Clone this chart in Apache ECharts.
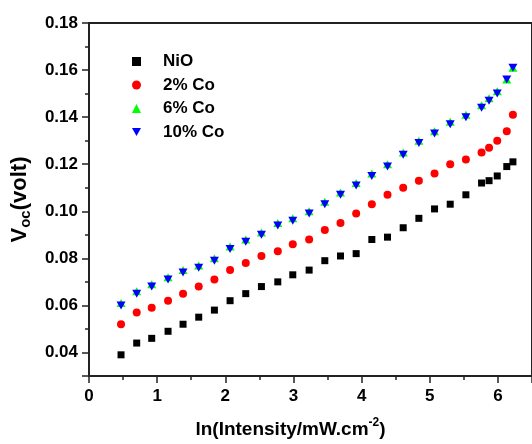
<!DOCTYPE html>
<html>
<head>
<meta charset="utf-8">
<script src="https://cdn.jsdelivr.net/npm/echarts@6/dist/echarts.min.js"></script>
<style>
html,body{margin:0;padding:0;background:#fff;}
#chart{width:532px;height:444px;}
</style>
</head>
<body>
<div id="chart"></div>
<script>
const lnIntensity = [0.47,0.70,0.92,1.16,1.38,1.61,1.84,2.07,2.30,2.53,2.77,2.99,3.23,3.46,3.69,3.92,4.15,4.38,4.61,4.84,5.07,5.30,5.53,5.76,5.87,5.99,6.13,6.22];
const vocNiO  = [0.039,0.044,0.046,0.049,0.052,0.055,0.058,0.062,0.065,0.068,0.070,0.073,0.075,0.079,0.081,0.082,0.088,0.089,0.093,0.097,0.101,0.103,0.107,0.112,0.113,0.115,0.119,0.121];
const voc2Co  = [0.052,0.057,0.059,0.062,0.065,0.068,0.071,0.075,0.078,0.081,0.083,0.086,0.088,0.092,0.095,0.099,0.103,0.107,0.110,0.113,0.116,0.120,0.122,0.125,0.127,0.130,0.134,0.141];
const voc6Co  = [0.061,0.066,0.069,0.072,0.075,0.077,0.080,0.085,0.088,0.091,0.095,0.097,0.100,0.104,0.108,0.112,0.116,0.120,0.125,0.130,0.134,0.138,0.141,0.145,0.148,0.151,0.156,0.161];
const voc10Co = [0.060,0.065,0.068,0.071,0.074,0.076,0.079,0.084,0.087,0.090,0.094,0.096,0.099,0.103,0.107,0.111,0.115,0.119,0.124,0.129,0.133,0.137,0.140,0.144,0.147,0.150,0.156,0.161];
const seriesNames = ['NiO','2% Co','6% Co','10% Co'];

function pairs(ys){ return lnIntensity.map((x,i)=>[x, ys[i]]); }

const FONT = 'Liberation Sans, Arial, sans-serif';
const chart = echarts.init(document.getElementById('chart'), null, {renderer:'canvas'});
const axisCol = '#222';
chart.setOption({
  animation:false,
  backgroundColor:'#fff',
  grid:{left:89, top:23, width:444, height:361, show:true, borderColor:axisCol, borderWidth:2, backgroundColor:'transparent'},
  legend:{
    orient:'vertical', left:127, top:48,
    itemWidth:9, itemHeight:9, itemGap:6.5,
    textStyle:{fontFamily:FONT, fontSize:17, fontWeight:'bold', color:'#000', padding:[0,0,0,17]},
    data:[
      {name:seriesNames[0], icon:'rect'},
      {name:seriesNames[1], icon:'circle'},
      {name:seriesNames[2], icon:'triangle'},
      {name:seriesNames[3], icon:'path://M0,0L10,0L5,9Z'}
    ]
  },
  xAxis:{
    type:'value', min:0, max:6.5, interval:1,
    name:'{t|ln(Intensity/mW.cm}{s|-2}{t|)}',
    nameLocation:'middle', nameGap:41,
    nameTextStyle:{padding:[0,40,0,0], rich:{
      t:{fontFamily:FONT, fontSize:19, fontWeight:'bold', color:'#000', lineHeight:22, verticalAlign:'bottom'},
      s:{fontFamily:FONT, fontSize:12, fontWeight:'bold', color:'#000', lineHeight:22, verticalAlign:'top', padding:[0,0,8,0]}
    }},
    axisLine:{lineStyle:{color:axisCol, width:2}},
    axisTick:{length:7, lineStyle:{color:axisCol, width:1.5}},
    minorTick:{show:true, splitNumber:2, length:4, lineStyle:{color:axisCol, width:1.5}},
    splitLine:{show:false},
    axisLabel:{fontFamily:FONT, fontSize:17, fontWeight:'bold', color:'#000', margin:12, showMaxLabel:false}
  },
  yAxis:{
    type:'value', min:0.03, max:0.18, splitNumber:7,
    name:'{v|V}{s|oc}{v|(volt)}',
    nameLocation:'middle', nameGap:56,
    nameTextStyle:{rich:{
      v:{fontFamily:FONT, fontSize:22, fontWeight:'bold', color:'#000', lineHeight:26},
      s:{fontFamily:FONT, fontSize:15, fontWeight:'bold', color:'#000', lineHeight:26, verticalAlign:'bottom', padding:[8,0,0,0]}
    }},
    axisLine:{lineStyle:{color:axisCol, width:2}},
    axisTick:{length:7, lineStyle:{color:axisCol, width:1.5}},
    minorTick:{show:true, splitNumber:2, length:4, lineStyle:{color:axisCol, width:1.5}},
    splitLine:{show:false},
    axisLabel:{fontFamily:FONT, fontSize:17, fontWeight:'bold', color:'#000', margin:11, showMinLabel:false,
      formatter:v=>v.toFixed(2)}
  },
  series:[
    {name:seriesNames[0], type:'scatter', data:pairs(vocNiO), symbol:'rect', symbolSize:7, itemStyle:{color:'#000', opacity:1}},
    {name:seriesNames[1], type:'scatter', data:pairs(voc2Co), symbol:'circle', symbolSize:8, itemStyle:{color:'#ff0000', opacity:1}},
    {name:seriesNames[2], type:'scatter', data:pairs(voc6Co), symbol:'triangle', symbolSize:[9,8], itemStyle:{color:'#00ff00', opacity:1}},
    {name:seriesNames[3], type:'scatter', data:pairs(voc10Co), symbol:'triangle', symbolRotate:180, symbolSize:[9,8], itemStyle:{color:'#0000ff', opacity:1}}
  ]
});
</script>
</body>
</html>
